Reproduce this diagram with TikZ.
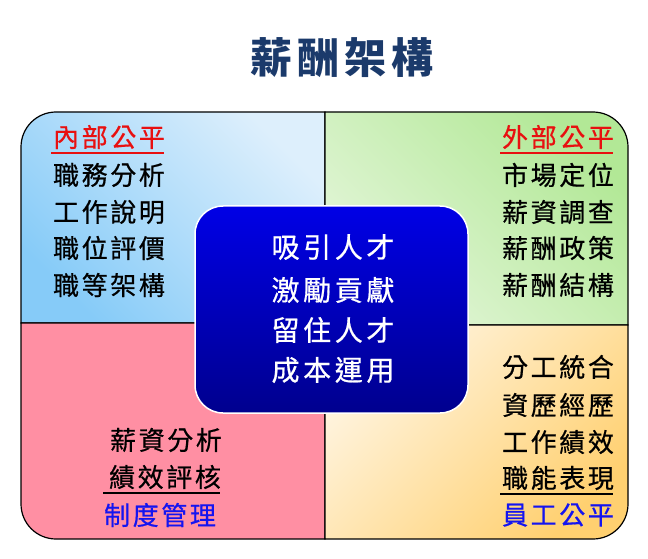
\documentclass[tikz,border=0pt]{standalone}
\usepackage{fontspec}
\newfontfamily\kai[LetterSpace=10,FakeBold=0.6]{Noto Sans CJK TC}
\newfontfamily\kaimid[LetterSpace=13,FakeBold=0.6]{Noto Sans CJK TC}
\newfontfamily\kaitop[LetterSpace=12]{Noto Sans CJK TC}

\definecolor{titleblue}{HTML}{1B3A6B}
\definecolor{headred}{HTML}{E81010}
\definecolor{headblue}{HTML}{1414F0}
\definecolor{tlDark}{HTML}{86CBF8}
\definecolor{tlLight}{HTML}{DDEFFC}
\definecolor{trDark}{HTML}{B2E896}
\definecolor{trLight}{HTML}{E4F6DA}
\definecolor{blPink}{HTML}{FF8FA3}
\definecolor{brLight}{HTML}{FFF5E2}
\definecolor{brDark}{HTML}{FFD070}
\definecolor{ctrTop}{HTML}{0000E6}
\definecolor{ctrBot}{HTML}{00008E}

\tikzset{
  quad/.style={draw=black, line width=1.2pt},
  item/.style={inner sep=0pt, font=\kai\fontsize{26}{26}\selectfont},
  core/.style={inner sep=0pt, text=white, font=\kaimid\fontsize{28}{28}\selectfont},
  rule/.style={line width=1.4pt}
}

\begin{document}
\begin{tikzpicture}[x=1pt,y=1pt]
\useasboundingbox (0,0) rectangle (648,558);

% four quarters
\path[quad, top color=tlLight, bottom color=tlDark, shading angle=-45]
  (325,235) -- (21,235) -- (21,411) arc[start angle=180, end angle=90, radius=35] -- (325,446) -- cycle;
\path[quad, top color=trDark, bottom color=trLight, shading angle=-45]
  (325,233) -- (325,446) -- (593,446) arc[start angle=90, end angle=0, radius=35] -- (628,233) -- cycle;
\path[quad, fill=blPink]
  (21,235) -- (325,235) -- (325,19) -- (56,19) arc[start angle=270, end angle=180, radius=35] -- cycle;
\path[quad, top color=brLight, bottom color=brDark, shading angle=45]
  (325,233) -- (628,233) -- (628,54) arc[start angle=0, end angle=-90, radius=35] -- (325,19) -- cycle;

% centre box
\node[draw=white, line width=1.5pt, rounded corners=28pt, minimum width=273pt, minimum height=207pt,
      top color=ctrTop, bottom color=ctrBot] (core) at (331.5,248.5) {};

\node[text=titleblue, inner sep=0pt, font=\kaitop\bfseries\fontsize{42}{42}\selectfont] (title) at (342,500) {薪酬架構};

\begin{scope}[every node/.style={core}]
  \node (c1) at (333,311) {吸引人才};
  \node (c2) at (333,268) {激勵貢獻};
  \node (c3) at (333,228) {留住人才};
  \node (c4) at (333,188) {成本運用};
\end{scope}

\begin{scope}[every node/.style={item}]
  % inner fairness
  \node[text=headred] (in0) at (109,421) {內部公平};
  \node (in1) at (109,383) {職務分析};
  \node (in2) at (109,346) {工作說明};
  \node (in3) at (109,310) {職位評價};
  \node (in4) at (109,273) {職等架構};
  % outer fairness
  \node[text=headred] (ex0) at (558,421) {外部公平};
  \node (ex1) at (558,383) {市場定位};
  \node (ex2) at (558,346) {薪資調查};
  \node (ex3) at (558,310) {薪酬政策};
  \node (ex4) at (558,273) {薪酬結構};
  % management
  \node (mg1) at (166,118) {薪資分析};
  \node (mg2) at (165,81) {績效評核};
  \node[text=headblue] (mg0) at (160,43) {制度管理};
  % staff fairness
  \node (st1) at (558,191) {分工統合};
  \node (st2) at (558,153) {資歷經歷};
  \node (st3) at (558,116) {工作績效};
  \node (st4) at (558,80) {職能表現};
  \node[text=headblue] (st0) at (558,43) {員工公平};
\end{scope}

\coordinate (inL) at (51,405);  \coordinate (inR) at (164,405);
\coordinate (exL) at (500,405); \coordinate (exR) at (613,405);
\coordinate (mgL) at (103,65);  \coordinate (mgR) at (220,65);
\coordinate (stL) at (500,64);  \coordinate (stR) at (613,64);
\draw[rule, headred] (inL) -- (inR);
\draw[rule, headred] (exL) -- (exR);
\draw[rule] (mgL) -- (mgR);
\draw[rule] (stL) -- (stR);

\end{tikzpicture}
\end{document}
